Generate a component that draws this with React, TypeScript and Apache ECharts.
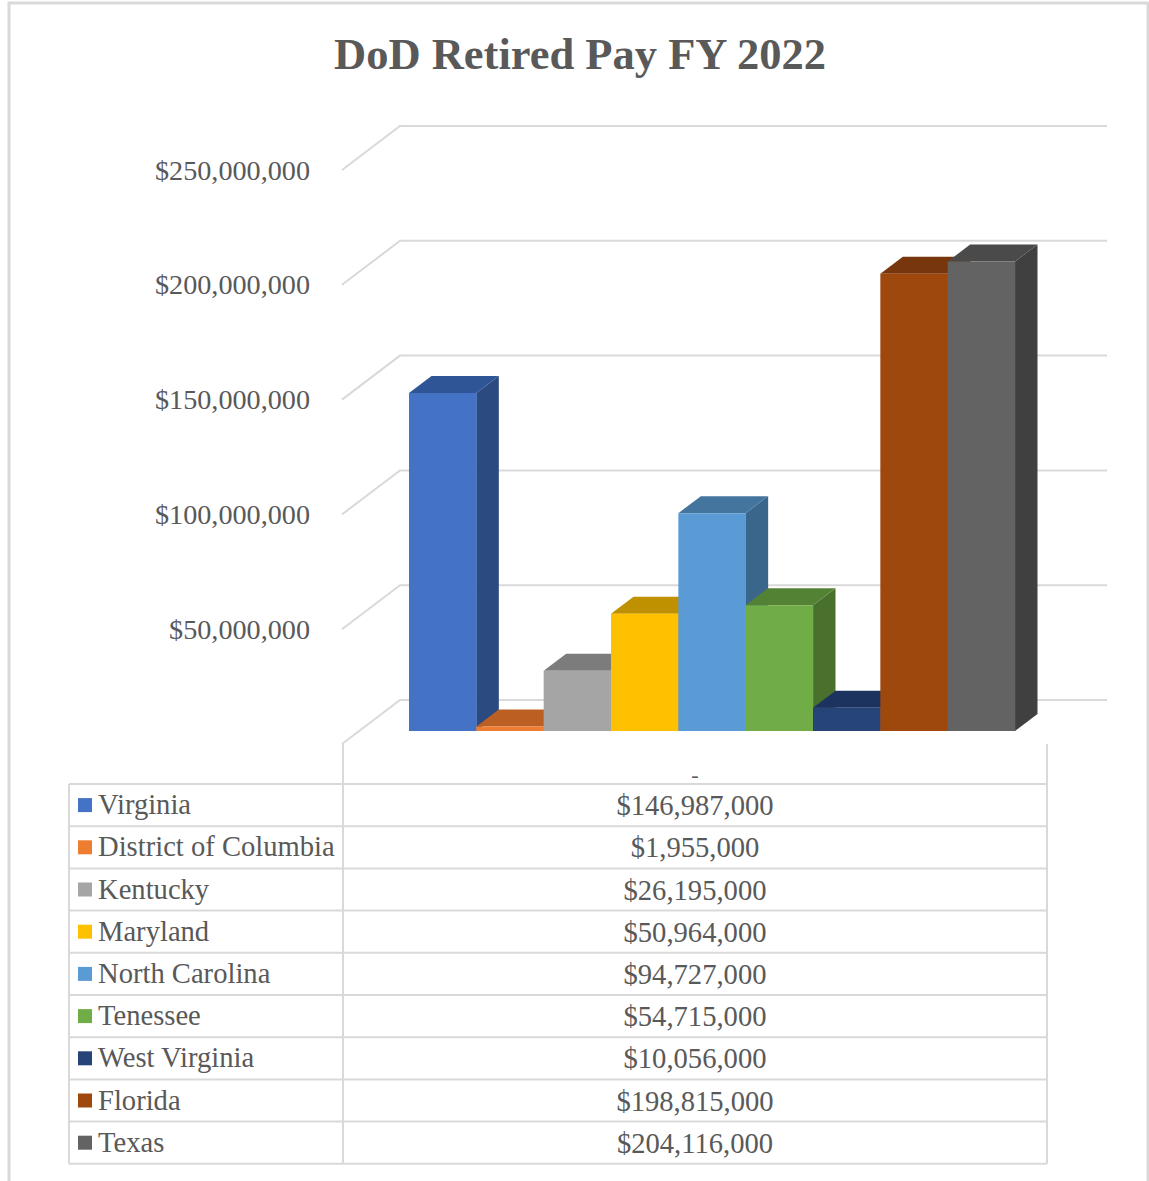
import React, { useEffect, useRef } from "react";
import * as echarts from "echarts";

const titleText = "DoD Retired Pay FY 2022";
const states = ["Virginia", "District of Columbia", "Kentucky", "Maryland", "North Carolina", "Tenessee", "West Virginia", "Florida", "Texas"];
const values = [146987000, 1955000, 26195000, 50964000, 94727000, 54715000, 10056000, 198815000, 204116000];
const frontColors = ["#4472C4", "#ED7D31", "#A5A5A5", "#FFC000", "#5B9BD5", "#70AD47", "#264478", "#9E480E", "#636363"];
const topColors = ["#2F5597", "#BC5F22", "#7C7C7C", "#BF9000", "#44759F", "#548235", "#1C3360", "#77360B", "#4A4A4A"];
const sideColors = ["#2A4A80", "#A5521D", "#6C6C6C", "#A67D00", "#3B668C", "#4A702E", "#192C52", "#672F09", "#404040"];
const yTicks = [0, 50000000, 100000000, 150000000, 200000000, 250000000];
const tableHeader = "-";

const FONT = "'Liberation Serif', 'Times New Roman', serif";
const TEXT = "#595959";
const LINE = "#D9D9D9";
const money = (v: number) => "$" + v.toLocaleString("en-US");

export default function App() {
  const ref = useRef<HTMLDivElement>(null);
  useEffect(() => {
    const chart = echarts.init(ref.current!, undefined, { renderer: "svg" });
    const rowTop = 784;
    const rowH = 42.2;
    const tableLeft = 69;
    const tableMid = 343;
    const tableRight = 1047;
    const lineStyle = { stroke: LINE, lineWidth: 2, fill: "none" };
    const hLine = (y: number, x1 = tableLeft, x2 = tableRight) => ({
      type: "line", silent: true, shape: { x1, y1: y, x2, y2: y }, style: lineStyle,
    });
    const vLine = (x: number, y1: number, y2: number) => ({
      type: "line", silent: true, shape: { x1: x, y1, x2: x, y2 }, style: lineStyle,
    });
    const graphicEls: any[] = [
      { type: "polyline", silent: true, shape: { points: [[9, 1181], [9, 3], [1148, 3], [1148, 1181]] }, style: { stroke: LINE, lineWidth: 3, fill: "none" } },
      vLine(tableLeft, rowTop, rowTop + rowH * 9),
      vLine(tableMid, 744, rowTop + rowH * 9),
      vLine(tableRight, 744, rowTop + rowH * 9),
      { type: "text", silent: true, x: 695, y: 774, style: { text: tableHeader, font: `22px ${FONT}`, fill: TEXT, align: "center", verticalAlign: "middle" } },
    ];
    for (let i = 0; i <= states.length; i++) graphicEls.push(hLine(rowTop + rowH * i));
    states.forEach((s, i) => {
      const cy = rowTop + rowH * (i + 0.5);
      graphicEls.push(
        { type: "rect", silent: true, shape: { x: 78, y: cy - 7, width: 14, height: 14 }, style: { fill: frontColors[i] } },
        { type: "text", silent: true, x: 98, y: cy - 0.5, style: { text: s, font: `28.6px ${FONT}`, fill: TEXT, align: "left", verticalAlign: "middle" } },
        { type: "text", silent: true, x: 695, y: cy + 0.5, style: { text: money(values[i]), font: `28.6px ${FONT}`, fill: TEXT, align: "center", verticalAlign: "middle" } },
      );
    });

    const option: any = {
      animation: false,
      backgroundColor: "#FFFFFF",
      title: {
        text: titleText,
        left: 575,
        top: 26,
        textAlign: "center",
        textStyle: { fontFamily: FONT, fontSize: 44.5, fontWeight: "bold", color: TEXT },
      },
      grid: [
        { left: 409, width: 606, top: 156, height: 575 },
        { left: 342, width: 765, top: 170, height: 574 },
      ],
      xAxis: [
        { type: "category", gridIndex: 0, data: states, show: false },
        { type: "value", gridIndex: 1, min: 0, max: 1, show: false },
      ],
      yAxis: [
        { type: "value", gridIndex: 0, min: 0, max: 250000000, interval: 50000000, show: false },
        {
          type: "value", gridIndex: 1, min: 0, max: 250000000, interval: 50000000,
          axisLine: { show: false }, axisTick: { show: false }, splitLine: { show: false },
          axisLabel: {
            margin: 32, fontFamily: FONT, fontSize: 28.2, color: TEXT,
            formatter: (v: number) => (v === 0 ? "" : money(v)),
          },
        },
      ],
      graphic: { elements: graphicEls },
      series: [
        {
          type: "custom", xAxisIndex: 1, yAxisIndex: 1, z: 1, silent: true, clip: false,
          data: yTicks.map((v) => [0, v]),
          encode: { x: 0, y: 1 },
          renderItem: (_: any, api: any) => {
            const p = api.coord([0, api.value(1)]);
            const end = api.coord([1, api.value(1)]);
            return {
              type: "polyline",
              shape: { points: [[p[0], p[1]], [p[0] + 58, p[1] - 44], [end[0], p[1] - 44]] },
              style: { stroke: LINE, lineWidth: 2, fill: "none" },
            };
          },
        },
        {
          type: "custom", xAxisIndex: 0, yAxisIndex: 0, z: 2, silent: true, clip: false,
          data: values.map((v, i) => [i, v]),
          encode: { x: 0, y: 1 },
          renderItem: (params: any, api: any) => {
            const i = params.dataIndex;
            const c = api.coord([api.value(0), api.value(1)]);
            const b = api.coord([api.value(0), 0]);
            const w = api.size([1, 0])[0];
            const l = c[0] - w / 2, r = c[0] + w / 2, t = c[1], y0 = b[1];
            const dx = 22.5, dy = 17;
            return {
              type: "group",
              children: [
                { type: "polygon", shape: { points: [[r, t], [r + dx, t - dy], [r + dx, y0 - dy], [r, y0]] }, style: { fill: sideColors[i] } },
                { type: "polygon", shape: { points: [[l, t], [l + dx, t - dy], [r + dx, t - dy], [r, t]] }, style: { fill: topColors[i] } },
                { type: "rect", shape: { x: l, y: t, width: w + 0.3, height: y0 - t }, style: { fill: frontColors[i] } },
              ],
            };
          },
        },
      ],
    };
    chart.setOption(option);
    return () => chart.dispose();
  }, []);
  return <div ref={ref} style={{ position: "absolute", left: 0, top: 0, width: 1149, height: 1181 }} />;
}
